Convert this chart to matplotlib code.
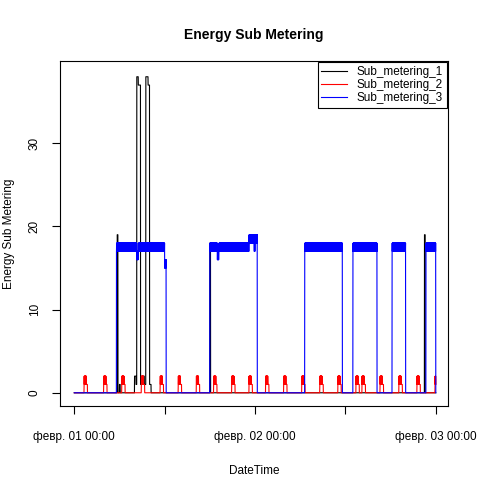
import numpy as np
import matplotlib
matplotlib.use("Agg")
import matplotlib.pyplot as plt

plt.rcParams['font.family'] = ['Liberation Sans', 'DejaVu Sans']

# --- data (hours since 01 Feb 00:00) ---
# Sub_metering_3: (start, end, low, high) periods of the water heater
sm3_periods = [(5.6, 12.2, 17, 18), (18.0, 24.3, 17, 18), (30.6, 35.6, 17, 18),
               (37.0, 40.2, 17, 18), (42.2, 44.0, 17, 18), (46.7, 48.0, 17, 18)]
sm3_bumps = [(8.3, 8.5, 16, 17), (19.0, 19.2, 16, 17), (12.0, 12.2, 15, 16),
             (24.0, 24.3, 18, 19), (23.2, 23.9, 18, 19)]
# Sub_metering_1: (start, end, value) kitchen events
sm1_events = [(5.7, 5.8, 19), (8.3, 8.5, 38), (8.5, 8.8, 37), (9.5, 9.8, 38),
              (9.8, 10.0, 37), (8.0, 10.2, 1), (8.0, 8.2, 2), (9.0, 9.3, 2),
              (18.0, 18.1, 18), (46.5, 46.6, 19), (6.0, 6.1, 1)]
# Sub_metering_2: fridge cycle start hours
sm2_starts = [1.3, 3.9, 6.3, 8.9, 11.4, 13.8, 16.2, 18.5, 20.9, 23.2, 25.4, 27.8,
              30.2, 32.6, 35.0, 37.4, 38.2, 40.6, 43.1, 45.5, 47.9]

minutes = np.arange(0, 48 * 60 + 1)
t = minutes / 60.0

sm3 = np.zeros_like(t)
for s, e, lo, hi in sm3_periods + sm3_bumps:
    m = (t >= s) & (t < e)
    sm3[m] = np.where(minutes[m] % 2 == 0, lo, hi)

sm1 = np.zeros_like(t)
for s, e, v in sm1_events:
    m = (t >= s) & (t < e)
    sm1[m] = np.maximum(sm1[m], v)

sm2 = np.zeros_like(t)
for s in sm2_starts:
    m = (t >= s) & (t < s + 0.3)
    sm2[m] = np.where(minutes[m] % 2 == 0, 1, 2)
    sm2[(t >= s + 0.3) & (t < s + 0.45)] = 1

fig, ax = plt.subplots(figsize=(4.8, 4.8), dpi=100)
fig.subplots_adjust(left=0.125, right=0.933, top=0.873, bottom=0.154)
ax.plot(t, sm1, color="black", lw=0.8, label="Sub_metering_1")
ax.plot(t, sm2, color="red", lw=0.8, label="Sub_metering_2")
ax.plot(t, sm3, color="blue", lw=0.8, label="Sub_metering_3")

ax.set_xlim(-1.9, 49.6)
ax.set_ylim(-1.6, 39.9)
ax.set_xticks([0, 12, 24, 36, 48])
ax.set_xticklabels(["февр. 01 00:00", "", "февр. 02 00:00", "", "февр. 03 00:00"])
ax.set_yticks([0, 10, 20, 30])
for lab in ax.get_yticklabels():
    lab.set_rotation(90)
    lab.set_va("center")
ax.tick_params(labelsize=8.5, length=6)
ax.tick_params(axis="x", pad=12)
ax.tick_params(axis="y", pad=8)
ax.set_xlabel("DateTime", fontsize=8.5, labelpad=16)
ax.set_ylabel("Energy Sub Metering", fontsize=8.5, labelpad=10)
ax.set_title("Energy Sub Metering", fontsize=10, fontweight="bold", pad=16)
leg = ax.legend(loc="upper right", fontsize=8.5, fancybox=False, framealpha=1,
                edgecolor="black", borderaxespad=0.1, handlelength=2.2, borderpad=0.3,
                labelspacing=0.1)
leg.get_frame().set_linewidth(0.8)

plt.savefig("out.png")
